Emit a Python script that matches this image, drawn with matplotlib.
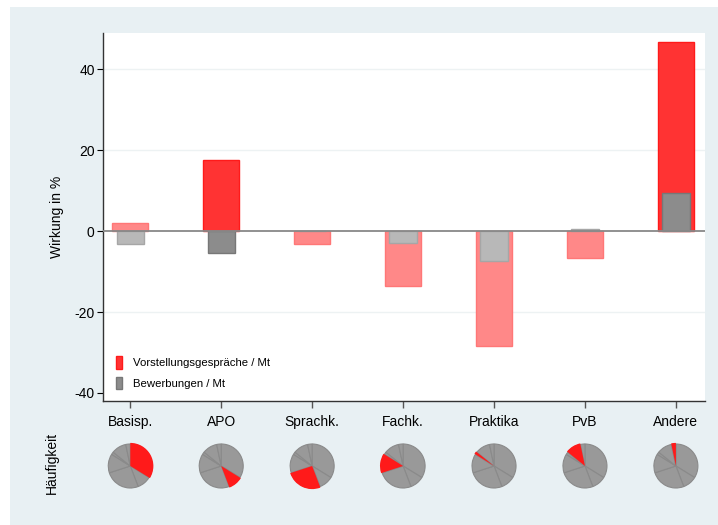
import matplotlib.pyplot as plt
from matplotlib.patches import Rectangle, Patch

# === Data ===
categories = ["Basisp.", "APO", "Sprachk.", "Fachk.", "Praktika", "PvB", "Andere"]
vorstellung = [1.9, 17.7, -3.3, -13.5, -28.5, -6.7, 46.7]
bewerbung = [-3.3, -5.4, 0.0, -3.0, -7.5, 0.5, 9.5]
signif = [False, True, False, False, False, False, True]
haeufigkeit = [33.8, 10.4, 25.8, 13.9, 1.9, 10.9, 3.3]

plt.rcParams["font.family"] = ["Liberation Sans", "DejaVu Sans"]

W, H = 718, 525
fig = plt.figure(figsize=(W / 100, H / 100), dpi=100, facecolor="white")

# light panel behind everything
fig.patches.append(Rectangle((10 / W, 0), 1 - 10 / W, 1 - 7 / H,
                             transform=fig.transFigure, facecolor="#e8f0f3",
                             edgecolor="none", zorder=-10))

# === Bar chart ===
ax = fig.add_axes([103 / W, 1 - 401 / H, (705 - 103) / W, (401 - 33) / H])
ax.set_facecolor("white")
x = list(range(len(categories)))

red_fc = ["#ff3333" if s else "#ff8888" for s in signif]
red_ec = ["#ff1a1a" if s else "#ff7777" for s in signif]
gray_fc = ["#8c8c8c" if s else "#b8b8b8" for s in signif]
gray_ec = ["#777777" if s else "#a6a6a6" for s in signif]

ax.bar(x, vorstellung, width=0.4, color=red_fc, edgecolor=red_ec, linewidth=1, zorder=3)
ax.bar(x, bewerbung, width=0.3, color=gray_fc, edgecolor=gray_ec, linewidth=1, zorder=4)

for g in [-20, 20, 40]:
    ax.axhline(g, color="#edf2f3", linewidth=1, zorder=1)
ax.axhline(0, color="#888888", linewidth=1.3, zorder=5)

ax.set_xlim(-0.3, 6.32)
ax.set_ylim(-42, 49)
ax.set_yticks([-40, -20, 0, 20, 40])
ax.set_yticklabels(["-40", "-20", "0", "20", "40"])
ax.set_xticks(x)
ax.set_xticklabels(categories)
ax.tick_params(axis="y", length=4, width=0.8, labelsize=10, pad=2)
ax.tick_params(axis="x", length=5, width=1, color="#555555", labelsize=10, pad=5)
ax.set_ylabel("Wirkung in %", fontsize=10, labelpad=7.5)

for side in ["top", "right"]:
    ax.spines[side].set_visible(False)
for side in ["left", "bottom"]:
    ax.spines[side].set_color("#333333")
    ax.spines[side].set_linewidth(1)

handles = [Patch(facecolor="#ff3333", edgecolor="#ff1a1a"),
           Patch(facecolor="#8c8c8c", edgecolor="#777777")]
ax.legend(handles, ["Vorstellungsgespräche / Mt", "Bewerbungen / Mt"],
          loc="lower left", bbox_to_anchor=(0.004, 0.004), frameon=False,
          fontsize=8.2, handlelength=0.55, handleheight=1.3, handletextpad=1.0,
          labelspacing=0.72)

# === Pies ===
fig.canvas.draw()
r_px = 22
for i in range(len(categories)):
    xd, _ = ax.transData.transform((i, 0))
    cx, cy = xd, H - 466
    pax = fig.add_axes([(cx - 30) / W, (cy - 30) / H, 60 / W, 60 / H])
    pax.pie(haeufigkeit, colors=["#999999"] * len(haeufigkeit), startangle=90,
            counterclock=False, radius=1.0,
            wedgeprops=dict(edgecolor="#8a8a8a", linewidth=0.8))
    cols = ["#ff1a1a" if j == i else "none" for j in range(len(haeufigkeit))]
    pax.pie(haeufigkeit, colors=cols, startangle=90, counterclock=False,
            radius=1.05, wedgeprops=dict(edgecolor="none", linewidth=0))
    lim = 30 / r_px
    pax.set_xlim(-lim, lim)
    pax.set_ylim(-lim, lim)
    pax.set_aspect("equal")
    pax.axis("off")

fig.text(52 / W, 1 - 463 / H, "Häufigkeit", rotation=90, ha="center",
         va="center", fontsize=10)

fig.savefig("out.png", dpi=100, facecolor="white")
